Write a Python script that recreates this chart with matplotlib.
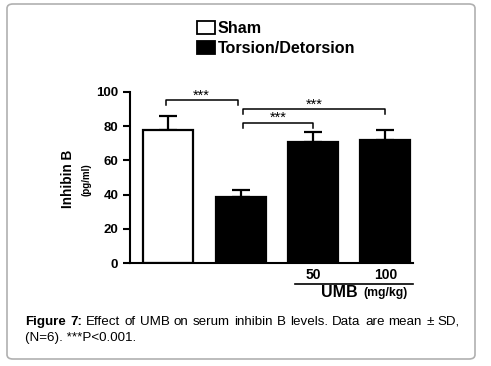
import numpy as np
import matplotlib.pyplot as plt
from matplotlib.patches import Patch, FancyBboxPatch

plt.rcParams['font.family'] = ['Liberation Sans', 'DejaVu Sans']

groups = ['Sham', 'Torsion/Detorsion', 'UMB 50', 'UMB 100']
means = [78, 38.5, 71, 72]
sds = [8, 4, 5.5, 6]
colors = ['white', 'black', 'black', 'black']
umb_doses = ['50', '100']
sig_pairs = [(0, 1, 95.3), (1, 3, 90), (1, 2, 82)]

caption1 = [('Figure', 'bold'), ('7:', 'bold'), ('Effect', 'normal'), ('of', 'normal'),
            ('UMB', 'normal'), ('on', 'normal'), ('serum', 'normal'), ('inhibin', 'normal'),
            ('B', 'normal'), ('levels.', 'normal'), ('Data', 'normal'), ('are', 'normal'),
            ('mean', 'normal'), ('\u00b1', 'normal'), ('SD,', 'normal')]
caption2 = '(N=6). ***P<0.001.'

W, H = 491, 366
fig = plt.figure(figsize=(W / 100, H / 100), dpi=100)

# frame round the figure
fig.patches.append(FancyBboxPatch((7 / W, 1 - 359 / H), 468 / W, 355 / H,
                                  boxstyle='round,pad=0,rounding_size=0.012',
                                  transform=fig.transFigure, fill=False,
                                  edgecolor='#b0b0b0', lw=1.2))

ax = fig.add_axes([130 / W, 103 / H, 283 / W, 171 / H])
x = np.arange(len(groups))
ax.bar(x, means, width=0.69, color=colors, edgecolor='black', lw=1.6, zorder=2)
ax.errorbar(x, means, yerr=[np.zeros(len(sds)), sds], fmt='none', ecolor='black',
            elinewidth=1.6, capsize=6.5, capthick=1.6, zorder=1)

ax.set_xlim(-0.525, 3.38)
ax.set_ylim(0, 100)
ax.set_yticks([0, 20, 40, 60, 80, 100])
ax.set_xticks([])
for s in ['top', 'right']:
    ax.spines[s].set_visible(False)
for s in ['left', 'bottom']:
    ax.spines[s].set_linewidth(1.5)
ax.tick_params(axis='y', direction='out', length=5, width=1.5, labelsize=9.5)
for lab in ax.get_yticklabels():
    lab.set_fontweight('bold')

ax.text(-62 / 283, 0.49, 'Inhibin B', transform=ax.transAxes, rotation=90,
        ha='center', va='center', fontsize=9.8, fontweight='bold')
ax.text(-43 / 283, 0.49, '(pg/ml)', transform=ax.transAxes, rotation=90,
        ha='center', va='center', fontsize=7, fontweight='bold')

# significance brackets
for i, j, y in sig_pairs:
    xi = i - 0.03 if i == 0 else i + 0.03
    xj = j - 0.04 if i == 0 else j
    ax.plot([xi, xi, xj, xj], [y - 3, y, y, y - 3], color='black', lw=1.1,
            clip_on=False)
    ax.text((xi + xj) / 2, y + 0.3, '***', ha='center', va='baseline', fontsize=10.5,
            clip_on=False)

# dose labels below axis
for k, d in enumerate(umb_doses):
    ax.text(2 + k, -7.2, d, ha='center', va='center', fontsize=10, fontweight='bold')
ax.plot([1.75, 3.38], [-12.3, -12.3], color='black', lw=1.2, clip_on=False)
ax.text(2.62, -17.5, 'UMB', ha='right', va='center', fontsize=11.5, fontweight='bold')
ax.text(2.69, -17.8, '(mg/kg)', ha='left', va='center', fontsize=8.8, fontweight='bold')

handles = [Patch(facecolor=c, edgecolor='black', lw=1.3) for c in colors[:2]]
fig.legend(handles, groups[:2], loc='upper left', bbox_to_anchor=(197 / W, 1 - 21 / H),
           frameon=False, handlelength=1.1, handleheight=0.85, handletextpad=0.2,
           labelspacing=0.3, borderaxespad=0, borderpad=0,
           prop={'weight': 'bold', 'size': 11.6})

# justified caption, first line
x0, x1, yc = 25, 460, 1 - 322 / H
fs = 9.6
words = [fig.text(0, yc, w, fontsize=fs, fontweight=wt, va='center', ha='left')
         for w, wt in caption1]
r = fig.canvas.get_renderer()
widths = [t.get_window_extent(r).width for t in words]
gap = (x1 - x0 - sum(widths)) / (len(words) - 1)
pos = x0
for t, wd in zip(words, widths):
    t.set_x(pos / W)
    pos += wd + gap
fig.text(x0 / W, 1 - 338 / H, caption2, fontsize=fs, va='center', ha='left')

fig.savefig('out.png', dpi=100)
